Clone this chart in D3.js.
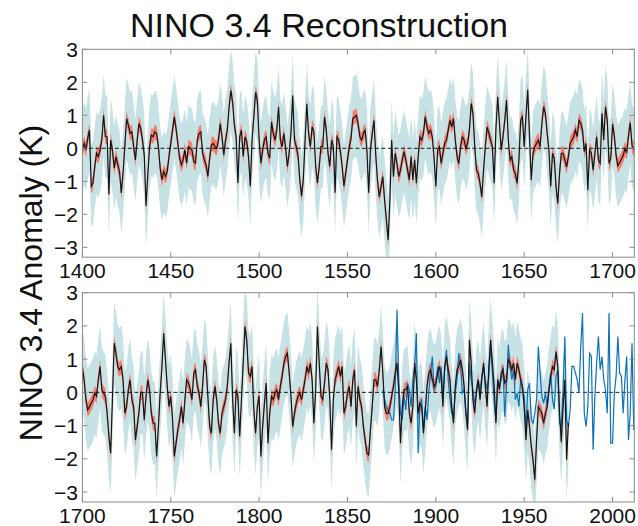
<!DOCTYPE html>
<html>
<head>
<meta charset="utf-8">
<script src="https://cdn.jsdelivr.net/npm/d3@7/dist/d3.min.js"></script>
<style>
body { margin: 0; background: #fff; }
text { font-family: "Liberation Sans", Arial, Helvetica, sans-serif; fill: #111; }
</style>
</head>
<body>
<svg id="chart" width="638" height="526"></svg>
<script>
// reconstruction (annual mean), first year 1400
var reconStart = 1400;
var recon = [
  -0.05, 0.15, -0.05, 0.3, 0.55, -1.15, -1.05, -0.55, -0.15, -0.25,   // 1400
  -0.05, 0.25, 1.0, 0.35, 0.35, -1.4, 0.25, -0.05, -0.6, -0.25,
  -0.5, -0.7, -1.35, -0.75, 0.05, 0.9, 0.7, 0.45, 0.5, 0.05,
  -0.35, 0.25, 0.75, 0.6, 0.25, -0.2, -1.75, -0.8, 0.05, 0.4,
  0.35, 0.5, 0.45, 0.05, -0.6, -0.95, -0.7, -0.85, -0.7, -0.25,
  0.15, 0.55, 0.95, 0.6, 0.15, -0.3, -0.5, -0.35, -0.05, -0.45,       // 1450
  0.05, 0.0, -0.05, -0.4, -0.45, 0.25, 0.45, 0.5, -0.15, -0.35,
  -0.5, -0.85, -0.3, 0.1, 0.15, 0.05, 0.0, 0.25, 0.75, 0.35,
  -0.2, 0.25, 0.55, 1.25, 1.75, 1.4, 0.7, 0.35, -1.05, 0.35,
  0.55, -0.25, 0.35, 0.2, -0.25, -1.15, 0.25, 0.95, 1.7, 1.45,
  0.25, -0.45, -0.05, 0.25, 0.35, -0.15, -0.3, 0.8, 0.45, 0.25,       // 1500
  0.55, 1.25, 0.25, 0.05, 0.45, 0.0, -0.55, -0.15, 0.45, 1.6,
  0.25, 0.05, -0.2, -0.95, -1.45, -0.95, 0.25, 1.35, 0.45, 0.05,
  0.65, 0.5, -0.55, -1.05, -0.55, 0.05, 0.05, 0.95, 0.55, -0.15,
  -0.55, 0.25, 0.05, -1.35, 0.35, 0.25, -0.1, -0.55, -1.15, -0.75,
  -0.35, 0.05, 0.3, 0.9, 0.95, 1.0, 0.75, 0.35, 0.25, 0.45,           // 1550
  0.55, -0.05, -1.35, -0.05, 0.45, 0.85, -0.2, -1.0, -1.47, -1.16,
  -0.86, -1.57, -2.17, -2.78, -1.57, 0.25, -0.86, -0.15, -0.46, -0.86,
  -0.66, -0.35, -0.1, -0.35, -0.66, -0.96, -0.25, -0.96, -0.35, -1.06,
  -0.25, 0.35, 0.25, 0.45, 0.96, 0.65, 0.45, 0.55, 0.35, -0.3,
  -1.16, -0.05, 0.05, -0.46, -0.15, 0.15, 0.25, 0.55, 0.85, 0.65,     // 1600
  0.9, 0.25, -0.25, -0.46, 0.05, 0.35, 0.25, 0.0, 0.15, 0.55,
  1.36, 1.06, 0.05, -0.66, -0.76, -1.06, -1.47, -0.66, 0.05, 0.65,
  0.45, 0.25, 0.05, -1.06, 0.6, 1.56, 0.75, -0.05, 0.35, 0.85,
  1.46, 0.25, -0.36, -0.25, -0.66, -0.76, -1.06, -0.36, 0.85, 0.96,
  0.05, 0.96, 1.77, 0.35, -0.96, -0.15, 0.05, 0.15, 0.25, 0.05,       // 1650
  0.75, 1.26, 1.06, 0.45, -0.05, -1.16, -0.15, -0.3, -1.16, -1.67,
  -0.76, -0.15, -0.15, -0.36, -0.56, -0.25, 0.15, 0.25, 0.35, 0.55,
  0.35, 0.85, 0.75, 0.55, -0.1, 0.15, -1.27, -0.05, -0.15, -0.66,
  -0.15, 0.35, -0.36, -0.46, 1.06, 0.25, 1.26, 0.85, -0.46, -0.3,
  0.73, 0.38, -0.22, -0.53, -0.43, -0.33, -0.22, -0.02, -0.12, 0.38,  // 1700
  0.78, 0.08, -0.02, -0.12, -0.63, -1.33, -1.83, -0.2, 1.48, 1.18,
  0.78, 0.68, 0.78, 0.38, -0.63, -0.43, 0.08, 0.38, -0.22, -0.43,
  -1.43, -1.03, -0.6, 0.0, -0.02, -0.83, -0.12, 0.38, 0.08, -0.63,
  -0.93, -0.93, -1.93, -1.03, -0.02, 0.78, 1.78, 0.98, 0.18, -0.43,
  -0.12, -0.8, -1.93, -1.53, -1.13, -0.83, -0.43, -0.93, -0.22, 0.38, // 1750
  0.28, 0.08, -0.22, 0.58, 0.68, 0.2, -0.02, -0.43, 0.18, 0.98,
  0.78, -0.12, -1.03, -1.23, -0.22, 0.18, -0.22, -0.93, -1.23, -0.63,
  -0.43, -0.22, 0.18, 0.9, 1.48, -0.2, -1.23, 0.08, -0.12, -1.33,
  -0.22, 0.88, 1.98, 1.58, 0.58, 0.48, 0.78, -0.53, -1.23, -0.43,
  -0.1, -1.93, -1.03, -0.33, 0.28, -1.53, -0.63, -0.12, -0.22, -0.02, // 1800
  0.08, -0.22, 0.18, 0.48, 0.88, 1.08, 1.18, 0.6, -0.1, -1.03,
  -0.63, -0.33, -0.12, -0.02, -0.22, 0.08, 0.38, 0.78, 0.58, 0.88,
  0.38, -0.93, 0.08, 1.98, 0.88, -0.12, -0.22, 0.28, 0.88, 0.68,
  -0.22, -1.73, -0.22, 0.38, 0.58, 0.78, 0.48, 0.78, -0.63, -0.43,
  -0.02, 0.18, -0.43, 0.38, 0.68, -1.03, 0.18, -0.22, -0.43, -1.03,   // 1850
  -1.43, -1.83, -1.88, -1.13, -0.43, 0.38, 0.38, 0.18, 0.68, 1.38,
  0.58, -0.43, -0.63, -0.63, -0.43, -0.12, 0.18, 0.58, 0.88, 0.08,
  -1.53, -0.43, 0.08, 0.08, 0.18, -0.63, -0.93, -0.43, 0.88, 0.38,
  -0.63, -0.33, -0.43, -1.23, -0.53, 0.18, 0.58, 0.68, 0.38, 0.18,
  0.28, 0.58, 0.78, 0.48, -0.43, 0.78, 1.08, 0.68, 0.38, -0.43,       // 1900
  -0.93, 0.18, 0.68, 0.78, 0.98, 0.68, 0.18, -0.63, -1.13, 1.58,
  0.88, -0.22, -0.63, 0.08, 0.38, -0.22, 0.38, 0.88, 0.18, -0.43,
  0.78, 1.58, 0.88, 0.18, -0.93, 0.38, 0.08, 0.58, 0.68, 0.28,
  0.38, 0.98, 0.88, 0.68, 0.88, 0.38, 0.88, 0.68, 0.38, 0.18,
  -0.43, -1.43, -0.53, -1.03, -1.63, -2.03, -2.63, -1.43, -0.43, -0.53, // 1950
  -0.63, -0.93, -0.63, -0.43, 0.08, 0.48, 0.78, 0.68, 1.23, 0.78,
  -0.63, -1.5, -0.43, 0.38, -2.03, -0.93
];

// instrumental record, first year 1870
var instrStart = 1870;
var instr = [
  0.08, -0.2, -0.43, -0.55, -0.63, -0.83, -0.83, 0.08, 2.49, 0.38,    // 1870
  -0.63, -0.83, -0.12, -0.53, 0.28, 0.08, -0.43, 0.38, 0.78, 1.78,
  -1.83, -0.33, -0.22, -1.13, -0.43, -0.83, -0.02, 0.58, 1.08, 0.08,
  0.18, 0.78, 0.28, 0.78, -0.12, 0.68, 1.28, 0.38, -0.22, -0.63,      // 1900
  -0.73, -0.02, 0.38, 1.18, 0.78, -0.02, 0.08, -0.63, -0.93, 0.88,
  0.38, 0.08, -0.33, -0.02, 0.38, 0.05, 0.48, 0.78, 0.38, 0.08,
  0.48, 1.38, 0.58, -0.3, -0.83, 0.38, 0.18, 0.38, 0.78, -0.73,
  0.18, 1.43, 0.78, 0.38, 0.68, -0.22, -0.02, -0.43, 0.38, 0.13,
  -0.12, -1.13, 0.08, 0.28, -0.83, -0.93, -0.63, -0.22, 1.38, 0.58,   // 1950
  -0.12, -0.33, -0.02, -0.43, 0.08, 0.58, -0.22, -0.5, 0.48, 0.68,
  -0.93, -1.03, 0.08, 1.68, -0.83, -1.03, -0.53, 0.78, 0.78, 0.58,
  0.38, -0.02, 1.38, 2.39, -0.63, -1.03, -0.43, 1.18, 1.08, -1.73,
  -0.12, 0.88, 1.68, 0.68, 1.08, 0.38, 0.08, -0.63, 2.39, -1.53,
  -1.53, -0.02, 0.48, 1.68, 0.58, 0.48, -0.63, 0.38, 1.08, -1.43,     // 2000
  -0.63, 1.48, -1.13
];

var yTicks = [-3, -2, -1, 0, 1, 2, 3];
var topTicks = [1400, 1450, 1500, 1550, 1600, 1650, 1700];
var bottomTicks = [1700, 1750, 1800, 1850, 1900, 1950, 2000];
var wideSpread = 1.25;   // half width of the light blue band
var narrowSpread = 0.22; // half width of the red band

var reconData = recon.map(function(v, i) { return {year: reconStart + i, v: v}; });
var instrData = instr.map(function(v, i) { return {year: instrStart + i, v: v}; });

var svg = d3.select("#chart");
var left = 82.4, right = 634.3;

var panels = [
  {x0: 1400, x1: 1712.3, ticks: topTicks, top: 49.3, bottom: 257.2, showInstr: false},
  {x0: 1700, x1: 2012.3, ticks: bottomTicks, top: 292.7, bottom: 502, showInstr: true}
];

function fmt(d) { return d < 0 ? "\u2212" + Math.abs(d) : String(d); }

panels.forEach(function(p, k) {
  var x = d3.scaleLinear().domain([p.x0, p.x1]).range([left, right]);
  var y = d3.scaleLinear().domain([-3.3, 3]).range([p.bottom, p.top]);

  svg.append("clipPath").attr("id", "clip" + k)
    .append("rect")
    .attr("x", left).attr("y", p.top)
    .attr("width", right - left).attr("height", p.bottom - p.top);

  var g = svg.append("g").attr("clip-path", "url(#clip" + k + ")");
  var data = reconData.filter(function(d) { return d.year >= p.x0 - 1 && d.year <= p.x1 + 1; });

  var wide = d3.area()
    .x(function(d) { return x(d.year); })
    .y0(function(d) { return y(d.v - wideSpread); })
    .y1(function(d) { return y(d.v + wideSpread); });
  var narrow = d3.area()
    .x(function(d) { return x(d.year); })
    .y0(function(d) { return y(d.v - narrowSpread); })
    .y1(function(d) { return y(d.v + narrowSpread); });
  var line = d3.line()
    .x(function(d) { return x(d.year); })
    .y(function(d) { return y(d.v); });

  g.append("path").datum(data).attr("d", wide).attr("fill", "#c6e2e5");
  g.append("path").datum(data).attr("d", narrow).attr("fill", "#f8725f").attr("opacity", 0.9);

  g.append("line")
    .attr("x1", left).attr("x2", right)
    .attr("y1", y(0)).attr("y2", y(0))
    .attr("stroke", "#000").attr("stroke-width", 0.9)
    .attr("stroke-dasharray", "4,2.5");

  if (p.showInstr) {
    g.append("path").datum(instrData).attr("d", line)
      .attr("fill", "none").attr("stroke", "#0a72ba").attr("stroke-width", 1.2);
  }

  g.append("path").datum(data).attr("d", line)
    .attr("fill", "none").attr("stroke", "#151515").attr("stroke-width", 1.2);

  // frame
  svg.append("rect")
    .attr("x", left).attr("y", p.top)
    .attr("width", right - left).attr("height", p.bottom - p.top)
    .attr("fill", "none").attr("stroke", "#8a8a8a").attr("stroke-width", 1);

  // x ticks (inward, top and bottom)
  p.ticks.forEach(function(t) {
    svg.append("line").attr("x1", x(t)).attr("x2", x(t))
      .attr("y1", p.bottom).attr("y2", p.bottom - 5).attr("stroke", "#8a8a8a");
    svg.append("line").attr("x1", x(t)).attr("x2", x(t))
      .attr("y1", p.top).attr("y2", p.top + 5).attr("stroke", "#8a8a8a");
    svg.append("text").attr("x", x(t)).attr("y", p.bottom + 21)
      .attr("text-anchor", "middle").attr("font-size", 21).text(t);
  });

  // y ticks
  yTicks.forEach(function(t) {
    svg.append("line").attr("x1", left).attr("x2", left + 5)
      .attr("y1", y(t)).attr("y2", y(t)).attr("stroke", "#8a8a8a");
    svg.append("line").attr("x1", right).attr("x2", right - 5)
      .attr("y1", y(t)).attr("y2", y(t)).attr("stroke", "#8a8a8a");
    svg.append("text").attr("x", 78).attr("y", y(t) + 7.5)
      .attr("text-anchor", "end").attr("font-size", 21).text(fmt(t));
  });
});

svg.append("text").attr("x", 319).attr("y", 37)
  .attr("text-anchor", "middle").attr("font-size", 34)
  .text("NINO 3.4 Reconstruction");

svg.append("text")
  .attr("transform", "translate(42,283) rotate(-90)")
  .attr("text-anchor", "middle").attr("font-size", 32)
  .text("NINO 3.4 Anomaly (K)");
</script>
</body>
</html>
